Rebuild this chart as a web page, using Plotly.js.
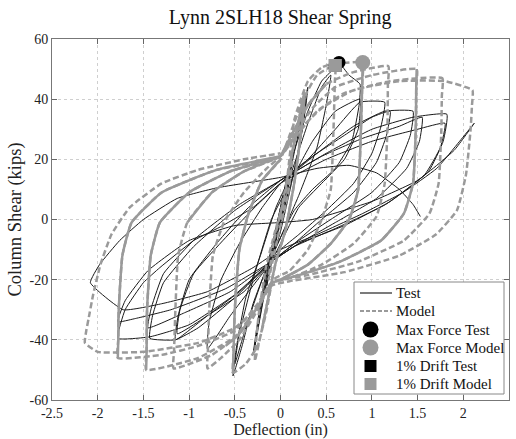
<!DOCTYPE html>
<html>
<head>
<meta charset="utf-8">
<script src="https://cdn.plot.ly/plotly-3.0.1.min.js"></script>
<style>html,body{margin:0;padding:0;background:#fff;}#chart{width:516px;height:439px;}</style>
</head>
<body>
<div id="chart"></div>
<script>
// ---------------- DATA ----------------
// Test hysteresis path (Deflection in, Column shear kips)
const testX = [0,0.08,0.03,-0.03,-0.1,-0.05,0,
 0.12,0.06,-0.04,-0.15,-0.08,0,
 0.1,0.22,0.3,0.26,0.15,0.02,-0.1,-0.2,-0.3,-0.25,-0.15,-0.02,
 0.12,0.28,0.24,0.12,0,-0.12,-0.28,-0.22,-0.1,0,
 0.12,0.3,0.45,0.58,0.64,0.75,0.87,0.86,0.78,0.6,0.35,0.15,0,-0.15,-0.3,-0.42,-0.52,-0.48,-0.38,-0.22,-0.05,
 0.1,0.3,0.45,0.55,0.5,0.4,0.2,0,-0.2,-0.38,-0.5,-0.45,-0.3,-0.1,
 0.1,0.35,0.6,0.87,0.85,0.7,0.45,0.2,0,-0.1,-0.3,-0.55,-0.8,-0.78,-0.65,-0.45,-0.2,0,
 0.3,0.6,0.87,1.14,1.1,1.0,0.8,0.5,0.2,0,-0.1,-0.4,-0.8,-1.15,-1.12,-1.0,-0.7,-0.35,0,
 0.35,0.7,1.0,1.2,1.16,1.05,0.8,0.45,0.15,-0.1,-0.45,-0.85,-1.13,-1.1,-0.95,-0.6,-0.25,0,
 0.4,0.8,1.14,1.45,1.42,1.3,1.0,0.6,0.2,-0.1,-0.5,-0.9,-1.15,-1.43,-1.4,-1.28,-0.95,-0.5,0,
 0.45,0.9,1.3,1.55,1.52,1.38,1.05,0.6,0.2,-0.1,-0.55,-1.05,-1.45,-1.41,-1.28,-0.92,-0.45,0,
 0.5,1.0,1.45,1.82,1.78,1.62,1.2,0.7,0.2,-0.1,-0.5,-1.0,-1.43,-1.78,-1.7,-1.5,-1.32,-0.95,-0.63,-0.3,0,
 0.5,1.0,1.5,1.8,1.75,1.58,1.15,0.6,0.15,-0.1,-0.6,-1.2,-1.6,-1.78,-1.7,-1.45,-1.0,-0.5,0,0.35,
 1.0,1.5,1.9,2.12,1.96,1.71,1.34,0.9,0.4,0,-0.3,-0.8,-1.3,-1.72,-2.08,-1.98,-1.76,-1.5,-1.13,-0.7,0,0.4,0.75,1.05,1.3,1.45,1.53];
const testY = [0,12,4,-4,-14,-6,2,
 18,6,-6,-22,-8,4,
 18,34,44,34,16,2,-12,-28,-45,-34,-16,0,
 18,40,30,12,-4,-16,-42,-30,-10,4,
 20,36,46,50,52,48,45,38,26,17,10,3,-6,-16,-28,-42,-52,-42,-26,-12,4,
 14,32,44,48,38,24,8,-6,-20,-36,-48,-38,-20,0,
 12,26,36,40,30,20,12,4,-8,-14,-22,-32,-43,-34,-20,-8,4,12,
 20,30,39,39,31,22,12,3,-5,-10,-14,-24,-32,-40,-32,-20,-8,4,13,
 21,28,34,36,28,19,9,0,-8,-14,-24,-33,-38,-30,-18,-6,5,12,
 22,31,36,36,28,19,9,1,-7,-14,-26,-36,-40,-39.5,-32,-21,-9,3,13,
 21,27,31,34,26,17,7,-1,-8,-14,-24,-31,-36,-29,-18,-6,5,13,
 22,30,34,35,26,16,6,-2,-8,-14,-25,-35,-39,-39.5,-30,-21,-16,-7,-2,4,12,
 20,26,30,32,24,15,5,-3,-9,-14,-23,-30,-33,-34,-27,-17,-7,-2,-1,0,
 6,13,23,32,26,17,9,2,-5,-10,-16,-24,-28,-30,-21,-15,-7,0,7,10.5,14,17,18,15.5,10,5,1];

// Model hysteresis path (full path, dashed)
const modelX = [0,0.06,0.13,0.08,0,-0.06,-0.13,-0.08,0,
 0.1,0.2,0.26,0.255,0.22,0.15,0.05,-0.05,-0.12,-0.2,-0.28,-0.275,-0.24,-0.16,-0.06,0.05,
 0.15,0.3,0.45,0.6,0.595,0.58,0.55,0.45,0.3,0.1,-0.08,-0.15,-0.25,-0.38,-0.52,-0.515,-0.5,-0.45,-0.35,-0.2,0,
 0.1,0.25,0.4,0.6,0.9,0.895,0.88,0.85,0.75,0.55,0.3,0,-0.1,-0.25,-0.45,-0.65,-0.8,-0.795,-0.78,-0.74,-0.62,-0.4,-0.15,0,
 0.12,0.3,0.5,0.8,1.18,1.175,1.17,1.14,1.05,0.8,0.45,0.1,-0.1,-0.25,-0.45,-0.75,-1.17,-1.165,-1.15,-1.12,-1.02,-0.75,-0.4,0,
 0.15,0.35,0.6,1.0,1.49,1.485,1.48,1.45,1.35,1.1,0.65,0.2,-0.1,-0.25,-0.5,-0.9,-1.47,-1.465,-1.46,-1.42,-1.32,-1.0,-0.55,0,
 0.15,0.4,0.7,1.2,1.77,1.765,1.76,1.73,1.63,1.35,0.85,0.3,-0.1,-0.25,-0.5,-0.9,-1.3,-1.78,-1.775,-1.77,-1.73,-1.63,-1.3,-0.7,0,
 0.15,0.45,0.8,1.3,1.8,2.1,2.095,2.08,2.03,1.93,1.7,1.3,0.7,0.1,-0.1,-0.25,-0.5,-0.9,-1.5,-2.0,-2.14,-2.125,-2.1,-2.05,-1.97,-1.85,-1.65,-1.3,-0.9,-0.4,0];
const modelY = [0,10,20,8,-2,-10,-20,-8,2,
 18,33,42,38,28,12,-4,-14,-24,-36,-47,-43,-32,-16,-4,8,
 33,46,50.5,52,46,30,10,0,-10,-17,-20,-30,-42,-48,-51,-45,-30,-10,2,13,20,
 28,40,48,51.5,52.2,46,30,10,0,-8,-15,-20,-21,-30,-40,-46,-49.5,-44,-30,-12,-1,9,17,21,
 28,38,45,49,51,45,30,12,1,-8,-15,-19.5,-21,-29,-38,-45,-49.5,-44,-30,-12,-1,9,16,21,
 28,37,44,48,50,44,30,12,2,-7,-14,-18.5,-21,-29,-39,-46,-50,-44,-30,-12,-1,9,16,21,
 27,36,42,46,47,41,30,12,2,-7,-14,-18.5,-21,-28,-37,-42,-45,-46,-40,-30,-12,-1,9,16.5,21,
 28,37,43,46,46,43,38,30,15,3,-5,-12,-17.5,-20.5,-22,-29,-36,-41,-44,-44,-41,-37,-33,-25,-15,-5,4,12,16.5,20,22];

// Model segments drawn with dense points in the original (appear solid)
const modelSolidX = [0.9,0.895,0.88,0.85,0.75,0.55,0.3,0,null,
 1.49,1.485,1.48,1.45,1.35,1.1,0.65,0.2,-0.1,null,
 -1.78,-1.775,-1.77,-1.73,-1.63,-1.3,-0.7,0,null,
 -1.47,-1.465,-1.46,-1.42,-1.32,-1.0,-0.55,0,null,
 -1.02,-0.75,-0.4,0,null,
 -0.52,-0.515,-0.5,-0.45,-0.35,-0.2,0,null,
 0,0.12,0.3,0.5,null,
 -0.1,-0.25,-0.45,-0.6,null,
 0.1,0.2,0.26,0.255,0.22,0.15,0.05,-0.05,-0.12,-0.2];
const modelSolidY = [52.2,46,30,10,0,-8,-15,-20,null,
 50,44,30,12,2,-7,-14,-18.5,-21,null,
 -46,-40,-30,-12,-1,9,16.5,21,null,
 -50,-44,-30,-12,-1,9,16,21,null,
 -1,9,16,21,null,
 -51,-45,-30,-10,2,13,20,null,
 21,28,38,45,null,
 -21,-29,-38,-42,null,
 18,33,42,38,28,12,-4,-14,-24,-36];

const maxForceTestX = [0.64],  maxForceTestY = [52.2];
const maxForceModelX = [0.9],  maxForceModelY = [52.2];
const driftTestX = [0.6],      driftTestY = [51.2];
const driftModelX = [0.6],     driftModelY = [51.2];

const xTickVals = [-2.5,-2,-1.5,-1,-0.5,0,0.5,1,1.5,2,2.5];
const xTickText = ["-2.5","-2","-1.5","-1","-0.5","0","0.5","1","1.5","2","2.5"];
const yTickVals = [-60,-40,-20,0,20,40,60];
const yTickText = ["-60","-40","-20","0","20","40","60"];

const legendNames = ["Test", "Model", "Max Force Test", "Max Force Model", "1% Drift Test", "1% Drift Model"];

// ---------------- CHART ----------------
const serif = "Liberation Serif";
const gray = "#9a9a9a";
const testColor = "#1a1a1a";
const traces = [
  {x: testX, y: testY, name: legendNames[0], mode: "lines", showlegend: false,
   line: {color: testColor, width: 1, shape: "spline", smoothing: 0.4}},
  {x: modelX, y: modelY, name: legendNames[1], mode: "lines", showlegend: false,
   line: {color: gray, width: 2.5, dash: "6px,3px", shape: "spline", smoothing: 0.4}},
  {x: modelSolidX, y: modelSolidY, name: legendNames[1], mode: "lines", showlegend: false,
   line: {color: gray, width: 2.5, shape: "spline", smoothing: 0.4}},
  {x: maxForceTestX, y: maxForceTestY, name: legendNames[2], mode: "markers", showlegend: false,
   marker: {color: "#000", size: 13, symbol: "circle"}},
  {x: maxForceModelX, y: maxForceModelY, name: legendNames[3], mode: "markers", showlegend: false,
   marker: {color: gray, size: 15, symbol: "circle"}},
  {x: driftTestX, y: driftTestY, name: legendNames[4], mode: "markers", showlegend: false,
   marker: {color: "#000", size: 13, symbol: "square"}},
  {x: driftModelX, y: driftModelY, name: legendNames[5], mode: "markers", showlegend: false,
   marker: {color: gray, size: 13, symbol: "square"}}
];

// Legend box drawn in pixel space (plot area: x 52..509, y 39..400)
const L = 52, T = 39, W = 457, H = 361;
const px = v => (v - L) / W;
const py = v => (T + H - v) / H;
const legBox = {left: 354, right: 504, top: 282, bottom: 394};
const rowY = [293, 311, 329.5, 347.5, 366, 384];
const shapes = [
  {type: "rect", xref: "paper", yref: "paper", x0: px(legBox.left), x1: px(legBox.right),
   y0: py(legBox.bottom), y1: py(legBox.top), fillcolor: "#fff", line: {color: "#888", width: 1}, layer: "above"},
  {type: "line", xref: "paper", yref: "paper", x0: px(360), x1: px(392), y0: py(rowY[0]), y1: py(rowY[0]),
   line: {color: "#333", width: 1.3}, layer: "above"},
  {type: "line", xref: "paper", yref: "paper", x0: px(360), x1: px(392), y0: py(rowY[1]), y1: py(rowY[1]),
   line: {color: gray, width: 2, dash: "4px,2px"}, layer: "above"}
];
const legMarkers = [
  {row: 2, kind: "circle", color: "#000", r: 8},
  {row: 3, kind: "circle", color: gray, r: 8},
  {row: 4, kind: "rect", color: "#000", r: 6},
  {row: 5, kind: "rect", color: gray, r: 6}
];
legMarkers.forEach(m => shapes.push({
  type: m.kind, xref: "paper", yref: "paper", xsizemode: "pixel", ysizemode: "pixel",
  xanchor: px(370.5), yanchor: py(rowY[m.row]), x0: -m.r, x1: m.r, y0: -m.r, y1: m.r,
  fillcolor: m.color, line: {width: 0}, layer: "above"}));
const annotations = legendNames.map((n, i) => ({
  xref: "paper", yref: "paper", x: px(394), y: py(rowY[i]), xanchor: "left", yanchor: "middle",
  text: n, showarrow: false, font: {family: serif, size: 15, color: "#111"}
}));

const layout = {
  width: 516, height: 439,
  margin: {l: L, r: 516 - L - W, t: T, b: 439 - T - H},
  paper_bgcolor: "#fff", plot_bgcolor: "#fff",
  font: {family: serif, color: "#222"},
  showlegend: false,
  shapes: shapes, annotations: annotations,
  title: {text: "Lynn 2SLH18 Shear Spring", font: {family: serif, size: 20, color: "#111"},
          x: 0.543, xanchor: "center", y: 0.962, yanchor: "middle", yref: "container"},
  xaxis: {range: [-2.5, 2.5], tickvals: xTickVals, ticktext: xTickText,
          ticks: "inside", ticklen: 5, tickcolor: "#666", showline: true, linecolor: "#777",
          mirror: "ticks", showgrid: true, gridcolor: "#cfcfcf", griddash: "dot", zeroline: false,
          tickfont: {family: serif, size: 14, color: "#222"},
          title: {text: "Deflection (in)", font: {family: serif, size: 16, color: "#222"}, standoff: 2}},
  yaxis: {range: [-60, 60], tickvals: yTickVals, ticktext: yTickText,
          ticks: "inside", ticklen: 5, tickcolor: "#666", showline: true, linecolor: "#777",
          mirror: "ticks", showgrid: true, gridcolor: "#cfcfcf", griddash: "dot", zeroline: false,
          tickfont: {family: serif, size: 14, color: "#222"},
          title: {text: "Column Shear (kips)", font: {family: serif, size: 18.5, color: "#222"}, standoff: 3}}
};

Plotly.newPlot("chart", traces, layout, {staticPlot: true, displayModeBar: false});
</script>
</body>
</html>
